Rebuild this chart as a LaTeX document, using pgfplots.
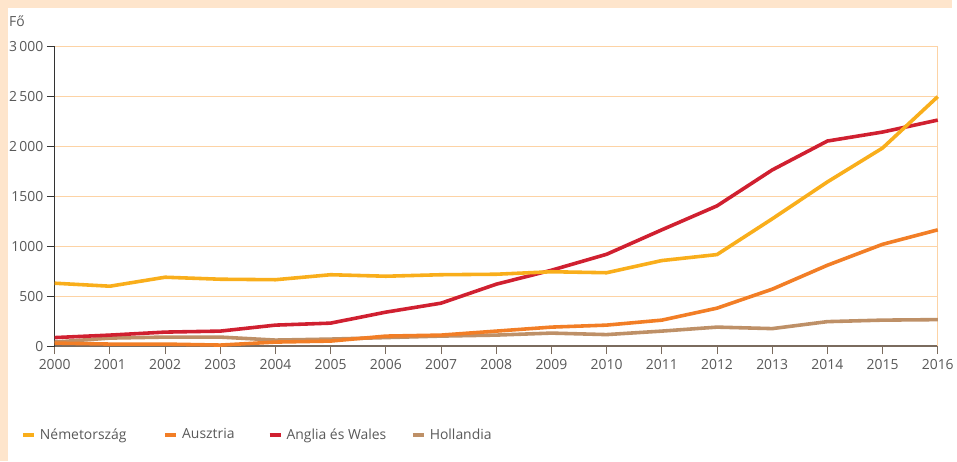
\documentclass[border=0pt]{standalone}
\usepackage{pgfplots}
\pgfplotsset{compat=1.18}
\usepackage{fontspec}
\setmainfont{Open Sans}
\definecolor{framebg}{HTML}{FEE5CC}
\definecolor{gridc}{HTML}{FDD3A5}
\definecolor{txt}{HTML}{595959}
\definecolor{nemet}{HTML}{F9AE1B}
\definecolor{auszt}{HTML}{F27E26}
\definecolor{anglia}{HTML}{D02030}
\definecolor{holl}{HTML}{BE9067}
\definecolor{xaxis}{HTML}{7A6B5E}
\begin{document}
\begin{tikzpicture}
% peach frame round the plot area
\fill[framebg] (0,0) rectangle (957pt,464pt);
\fill[white] (8pt,0) rectangle (957pt,456pt);
\node[anchor=west, text=txt, font=\fontsize{14}{16}\selectfont, inner sep=0pt] at (9pt,443pt) {Fő};
\begin{axis}[
    at={(55pt,116pt)}, anchor=south west,
    scale only axis, width=888pt, height=301pt,
    xmin=2000, xmax=2016, ymin=0, ymax=3000,
    enlargelimits=false, clip=false,
    axis lines=left,
    x axis line style={-, draw=xaxis, line width=1.6pt},
    y axis line style={-, draw=black!80, line width=1pt},
    tick align=outside, major tick length=8pt,
    x tick style={draw=xaxis, line width=1pt},
    y tick style={draw=black!80, line width=1pt},
    xtick={2000,2001,...,2016},
    ytick={0,500,1000,1500,2000,2500,3000},
    yticklabels={0,500,1000,1500,2\,000,2\,500,3\,000},
    /pgf/number format/.cd, 1000 sep={}, assume math mode=true, /pgfplots/.cd,
    ticklabel style={text=txt, font=\fontsize{14}{16}\selectfont},
    xticklabel style={yshift=-2pt},
    ymajorgrids, grid style={draw=gridc, line width=1pt},
    every axis plot/.append style={line width=3.6pt, line join=round, no markers},
    legend columns=4,
    legend style={at={(-0.0417,-0.2957)}, anchor=west, draw=none, fill=none,
        text=txt, font=\fontsize{14}{16}\selectfont,
        nodes={inner sep=0pt}, column sep=4pt},
    legend image code/.code={\draw[line width=4pt] (0pt,0pt) -- (11pt,0pt);},
]
\draw[gridc, line width=1pt] (axis cs:2016,0) -- (axis cs:2016,3000);
\addplot[holl, forget plot] coordinates {(2000,40) (2001,80) (2002,90) (2003,90) (2004,60) (2005,70) (2006,85) (2007,100) (2008,110) (2009,130) (2010,115) (2011,150) (2012,190) (2013,175) (2014,245) (2015,260) (2016,265)};
\addplot[auszt, forget plot] coordinates {(2000,30) (2001,20) (2002,20) (2003,10) (2004,40) (2005,50) (2006,100) (2007,110) (2008,150) (2009,190) (2010,210) (2011,260) (2012,380) (2013,570) (2014,810) (2015,1020) (2016,1165)};
\addplot[anglia, forget plot] coordinates {(2000,85) (2001,110) (2002,140) (2003,150) (2004,210) (2005,230) (2006,340) (2007,430) (2008,620) (2009,760) (2010,920) (2011,1165) (2012,1405) (2013,1765) (2014,2055) (2015,2145) (2016,2265)};
\addplot[nemet, forget plot] coordinates {(2000,630) (2001,600) (2002,690) (2003,670) (2004,665) (2005,715) (2006,700) (2007,715) (2008,720) (2009,745) (2010,735) (2011,857) (2012,917) (2013,1275) (2014,1645) (2015,1985) (2016,2500)};
% legend entries in the reference order
\addlegendimage{nemet}\addlegendentry{\makebox[120pt][l]{Németország}}
\addlegendimage{auszt}\addlegendentry{\makebox[82pt][l]{Ausztria}}
\addlegendimage{anglia}\addlegendentry{\makebox[121pt][l]{Anglia és Wales}}
\addlegendimage{holl}\addlegendentry{Hollandia}
\end{axis}
\end{tikzpicture}
\end{document}
